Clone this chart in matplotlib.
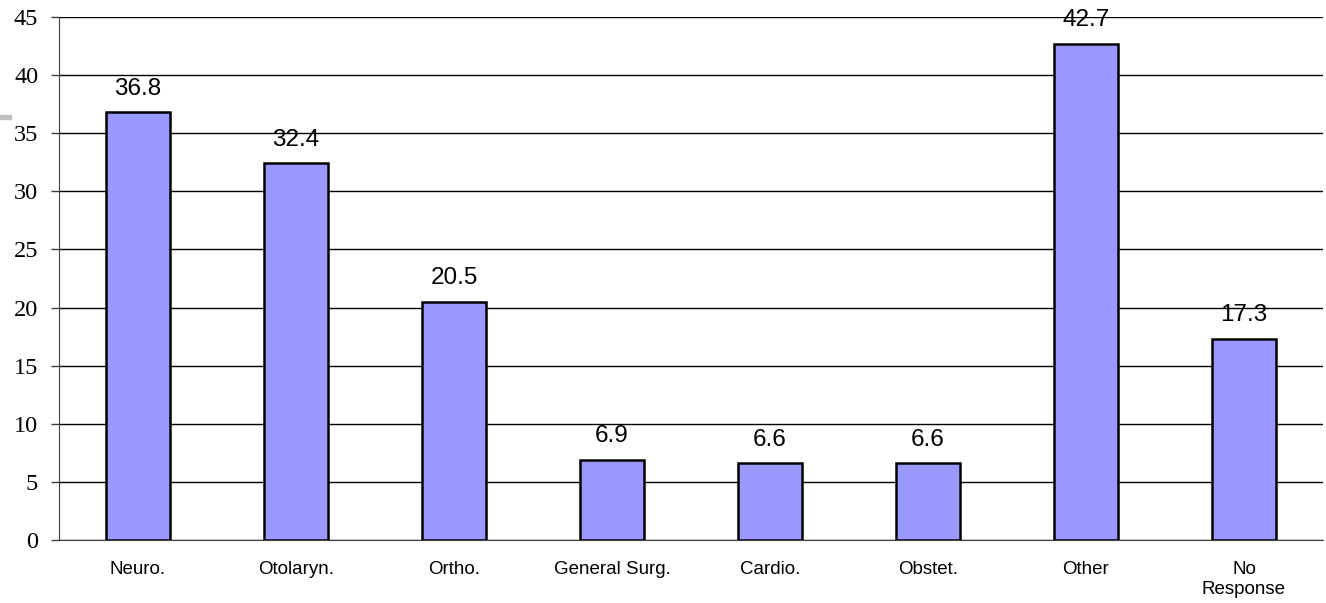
import matplotlib.pyplot as plt
from matplotlib.patches import Rectangle
import numpy as np

# 数据
categories = ["Neuro.", "Otolaryn.", "Ortho.", "General Surg.", "Cardio.", "Obstet.", "Other", "No\nResponse"]
values = [36.8, 32.4, 20.5, 6.9, 6.6, 6.6, 42.7, 17.3]
yticks = [0, 5, 10, 15, 20, 25, 30, 35, 40, 45]

fig = plt.figure(figsize=(13.26, 6.03), dpi=100)
ax = fig.add_axes([0.0445, 0.1045, 0.9532, 0.8673])

x = np.arange(len(categories))
ax.set_axisbelow(True)
bars = ax.bar(x, values, width=0.405, color="#9999FF", edgecolor="black", linewidth=1.8, zorder=3)

# 数值标签
for b, v in zip(bars, values):
    ax.annotate(f"{v}", (b.get_x() + b.get_width() / 2, v), xytext=(0, 9), textcoords="offset points",
                ha="center", va="bottom", family="Liberation Sans", size=17.5, zorder=4)

ax.set_xlim(-0.5, 7.5)
ax.set_ylim(0, 45)
ax.set_yticks(yticks)
ax.set_yticklabels([str(t) for t in yticks], family="Liberation Serif", size=17.5)
ax.set_xticks(x)
ax.set_xticklabels(categories, family="Liberation Sans", size=13.5, linespacing=1.25)

# 网格线
ax.yaxis.grid(True, color="black", linewidth=1.0)
ax.tick_params(axis="y", length=6, width=1, color="#404040", pad=9)
ax.tick_params(axis="x", length=0, pad=15)

ax.spines['right'].set_color('none')
ax.spines['top'].set_color('none')
ax.spines['left'].set_color('#404040')
ax.spines['bottom'].set_color('#404040')

# 左边的灰色小块
fig.patches.append(Rectangle((0, 1 - 119 / 603), 11 / 1326, 4 / 603, transform=fig.transFigure,
                             color="#C0C0C0", zorder=0))

fig.savefig("out.png", dpi=100)
